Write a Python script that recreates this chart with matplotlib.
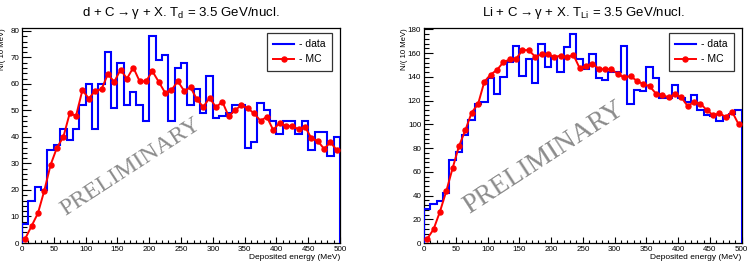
import matplotlib.pyplot as plt
import numpy as np
from matplotlib.ticker import MultipleLocator

# 10 MeV bins from 0 to 500 MeV
edges = np.arange(0, 510, 10)
centers = np.arange(5, 500, 10)

d_data = [7, 16, 21, 20, 35, 37, 43, 39, 43, 52,
          60, 43, 60, 72, 51, 68, 52, 57, 52, 46,
          78, 69, 71, 46, 66, 68, 52, 58, 49, 63,
          47, 48, 49, 52, 52, 36, 38, 53, 50, 46,
          41, 46, 46, 41, 46, 35, 42, 42, 33, 40]
d_mc = [1.6, 6.4, 11.2, 19.7, 29.5, 36, 40, 48.9, 48, 57.7,
        54.5, 57.4, 58, 63.7, 60.8, 65.4, 62, 66.2, 61, 61,
        64.8, 60.8, 56.7, 57.7, 61, 57.4, 58.7, 54.2, 51.3, 54.8,
        51.2, 53.3, 47.8, 50.1, 52, 50.8, 48.9, 46.1, 47.6, 42.6,
        45.4, 44.1, 44.1, 42.9, 43.9, 39.5, 38.5, 35.5, 38, 35]

li_data = [29, 33, 35, 42, 70, 77, 91, 104, 117, 119,
           139, 126, 140, 153, 166, 141, 155, 135, 168, 148,
           157, 144, 165, 176, 155, 147, 159, 139, 137, 144,
           144, 166, 117, 129, 128, 148, 139, 122, 122, 133,
           122, 119, 125, 112, 108, 107, 103, 106, 109, 112]
li_mc = [3.5, 11.5, 26.3, 43.6, 63, 81.6, 95, 110, 117, 136,
         142, 146, 152.5, 154.7, 155.3, 162.6, 162.6, 157, 159, 159,
         157, 157.8, 156.4, 158.7, 147.4, 149, 151.3, 146.9, 146.3, 146.6,
         142.4, 139.6, 140.7, 136.7, 134, 132.2, 126, 125, 122.7, 125.5,
         122.7, 115.4, 119, 117.6, 112, 107.8, 109.2, 106.4, 110.6, 100.2]

plt.rcParams['font.family'] = ['Liberation Sans', 'DejaVu Sans']
plt.rcParams['mathtext.fontset'] = 'custom'
plt.rcParams['mathtext.rm'] = 'Liberation Sans'
plt.rcParams['mathtext.it'] = 'Liberation Sans:italic'


def draw(ax, data, mc, ymax, ymaj, ymin, title, wm_xy, wm_size):
    ax.stairs(data, edges, color='#0000ff', lw=1.5, label='- data', zorder=3)
    ax.plot(centers, mc, color='#ff0000', lw=1.4, marker='o', ms=3.6,
            label='- MC', zorder=4)
    ax.set_xlim(0, 500)
    ax.set_ylim(0, ymax)
    ax.xaxis.set_major_locator(MultipleLocator(50))
    ax.xaxis.set_minor_locator(MultipleLocator(10))
    ax.yaxis.set_major_locator(MultipleLocator(ymaj))
    ax.yaxis.set_minor_locator(MultipleLocator(ymin))
    ax.tick_params(axis='both', which='both', direction='in', top=False,
                   right=False, labelsize=5.8, pad=2, width=0.8)
    ax.tick_params(axis='x', which='major', length=4.5)
    ax.tick_params(axis='x', which='minor', length=2.3)
    ax.tick_params(axis='y', which='major', length=6.5)
    ax.tick_params(axis='y', which='minor', length=3.3)
    for s in ax.spines.values():
        s.set_linewidth(0.9)
    ax.set_xlabel('Deposited energy (MeV)', fontsize=6, loc='right', labelpad=1)
    ax.set_ylabel('N/( 10 MeV)', fontsize=5.6, loc='top')
    ax.yaxis.set_label_coords(-0.05, 1.0)
    ax.set_title(title, fontsize=9.5, pad=9)
    ax.text(wm_xy[0], wm_xy[1], 'PRELIMINARY', transform=ax.transAxes,
            family='Liberation Serif', fontsize=wm_size, color='#8c8c8c',
            rotation=33, ha='center', va='center', zorder=1)
    leg = ax.legend(loc='upper right', bbox_to_anchor=(0.975, 0.978),
                    borderaxespad=0, fontsize=7.5, frameon=True, fancybox=False,
                    edgecolor='black', handlelength=2.0, handletextpad=0.5,
                    borderpad=0.6, labelspacing=0.5)
    leg.get_frame().set_linewidth(0.9)


fig = plt.figure(figsize=(7.48, 2.70), dpi=100)
ax1 = fig.add_axes([22 / 748, 27 / 270, 318 / 748, 214.7 / 270])
ax2 = fig.add_axes([424 / 748, 27 / 270, 317.7 / 748, 214.7 / 270])

draw(ax1, d_data, d_mc, 81, 10, 2,
     r'd + C$\rightarrow$γ + X. $\mathregular{T_{d}}$ = 3.5 GeV/nucl.',
     (0.341, 0.356), 17.3)
draw(ax2, li_data, li_mc, 181, 20, 4,
     r'Li + C$\rightarrow$γ + X. $\mathregular{T_{Li}}$ = 3.5 GeV/nucl.',
     (0.376, 0.396), 19.8)

fig.savefig('out.png', dpi=100)
